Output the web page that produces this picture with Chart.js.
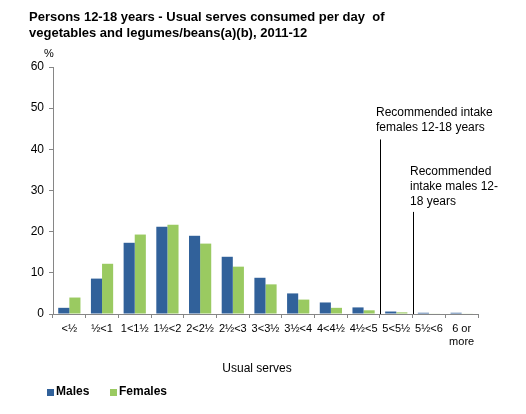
<!DOCTYPE html>
<html>
<head>
<meta charset="utf-8">
<script src="https://cdn.jsdelivr.net/npm/chart.js@4/dist/chart.umd.min.js"></script>
<style>
  body { margin: 0; background: #fff; }
  #wrap { width: 526px; height: 414px; }
</style>
</head>
<body>
<div id="wrap"><canvas id="chart" width="526" height="414"></canvas></div>
<script>
const categories = ["<½", "½<1", "1<1½", "1½<2", "2<2½", "2½<3", "3<3½", "3½<4", "4<4½", "4½<5", "5<5½", "5½<6", ["6 or", "more"]];
const males = [1.5, 8.6, 17.3, 21.2, 19.0, 13.9, 8.8, 5.0, 2.8, 1.6, 0.6, 0.3, 0.3];
const females = [4.0, 12.2, 19.3, 21.7, 17.1, 11.5, 7.2, 3.5, 1.5, 0.9, 0.4, 0.1, 0.1];
const yTicks = [0, 10, 20, 30, 40, 50, 60];

// recommended intake markers: boundary after category index, top of line in %
const femaleRec = { after: 9, top: 42.4, text: ["Recommended intake", "females 12-18 years"] };
const maleRec = { after: 10, top: 24.8, text: ["Recommended", "intake males 12-", "18 years"] };

const FONT = "Arial, 'Liberation Sans', sans-serif";
const BLUE = "#31619A";
const GREEN = "#9ACA61";
const AXIS = "#868686";

const extras = {
  id: "extras",
  afterDraw(chart) {
    const ctx = chart.ctx;
    const x = chart.scales.x;
    const y = chart.scales.y;
    ctx.save();

    // title
    ctx.fillStyle = "#000";
    ctx.font = "bold 13px " + FONT;
    ctx.textBaseline = "middle";
    ctx.textAlign = "left";
    ctx.fillText("Persons 12-18 years - Usual serves consumed per day  of", 29, 17);
    ctx.fillText("vegetables and legumes/beans(a)(b), 2011-12", 29, 33);

    ctx.font = "11px " + FONT;
    ctx.textAlign = "center";
    ctx.fillText("%", 49, 54);

    // recommended lines
    [femaleRec, maleRec].forEach((r, i) => {
      const px = Math.round((x.getPixelForValue(r.after) + x.getPixelForValue(r.after + 1)) / 2) + 0.5;
      ctx.strokeStyle = "#000";
      ctx.lineWidth = 1;
      ctx.beginPath();
      ctx.moveTo(px, y.getPixelForValue(r.top));
      ctx.lineTo(px, y.getPixelForValue(0));
      ctx.stroke();
    });
    ctx.font = "12px " + FONT;
    ctx.textAlign = "left";
    femaleRec.text.forEach((t, i) => ctx.fillText(t, 376, 113 + i * 15));
    maleRec.text.forEach((t, i) => ctx.fillText(t, 410, 172 + i * 15));

    // axis title
    ctx.textAlign = "center";
    ctx.fillText("Usual serves", 257, 369);

    // legend
    ctx.font = "bold 12px " + FONT;
    ctx.textAlign = "left";
    ctx.fillStyle = BLUE;
    ctx.fillRect(47, 389, 7, 7);
    ctx.fillStyle = "#000";
    ctx.fillText("Males", 56, 392);
    ctx.fillStyle = GREEN;
    ctx.fillRect(110, 389, 7, 7);
    ctx.fillStyle = "#000";
    ctx.fillText("Females", 119, 392);
    ctx.restore();
  }
};

new Chart(document.getElementById("chart"), {
  type: "bar",
  data: {
    labels: categories,
    datasets: [
      { label: "Males", data: males, backgroundColor: BLUE },
      { label: "Females", data: females, backgroundColor: GREEN }
    ]
  },
  options: {
    responsive: false,
    animation: false,
    layout: { padding: { top: 67, right: 48, bottom: 0, left: 0 } },
    datasets: { bar: { categoryPercentage: 0.68, barPercentage: 1.0 } },
    plugins: { legend: { display: false }, tooltip: { enabled: false } },
    scales: {
      x: {
        afterFit: (s) => { s.height = 100; },
        border: { color: AXIS },
        grid: { offset: true, drawOnChartArea: false, tickLength: 4, color: AXIS },
        ticks: { autoSkip: false, maxRotation: 0, minRotation: 0, padding: 4, color: "#000", font: { family: FONT, size: 11 } }
      },
      y: {
        min: 0,
        max: 60,
        afterFit: (s) => { s.width = 53; },
        afterBuildTicks: (s) => { s.ticks = yTicks.map((v) => ({ value: v })); },
        border: { color: AXIS },
        grid: { drawOnChartArea: false, tickLength: 4, color: AXIS },
        ticks: { padding: 5, color: "#000", font: { family: FONT, size: 12 } }
      }
    }
  },
  plugins: [extras]
});
</script>
</body>
</html>
